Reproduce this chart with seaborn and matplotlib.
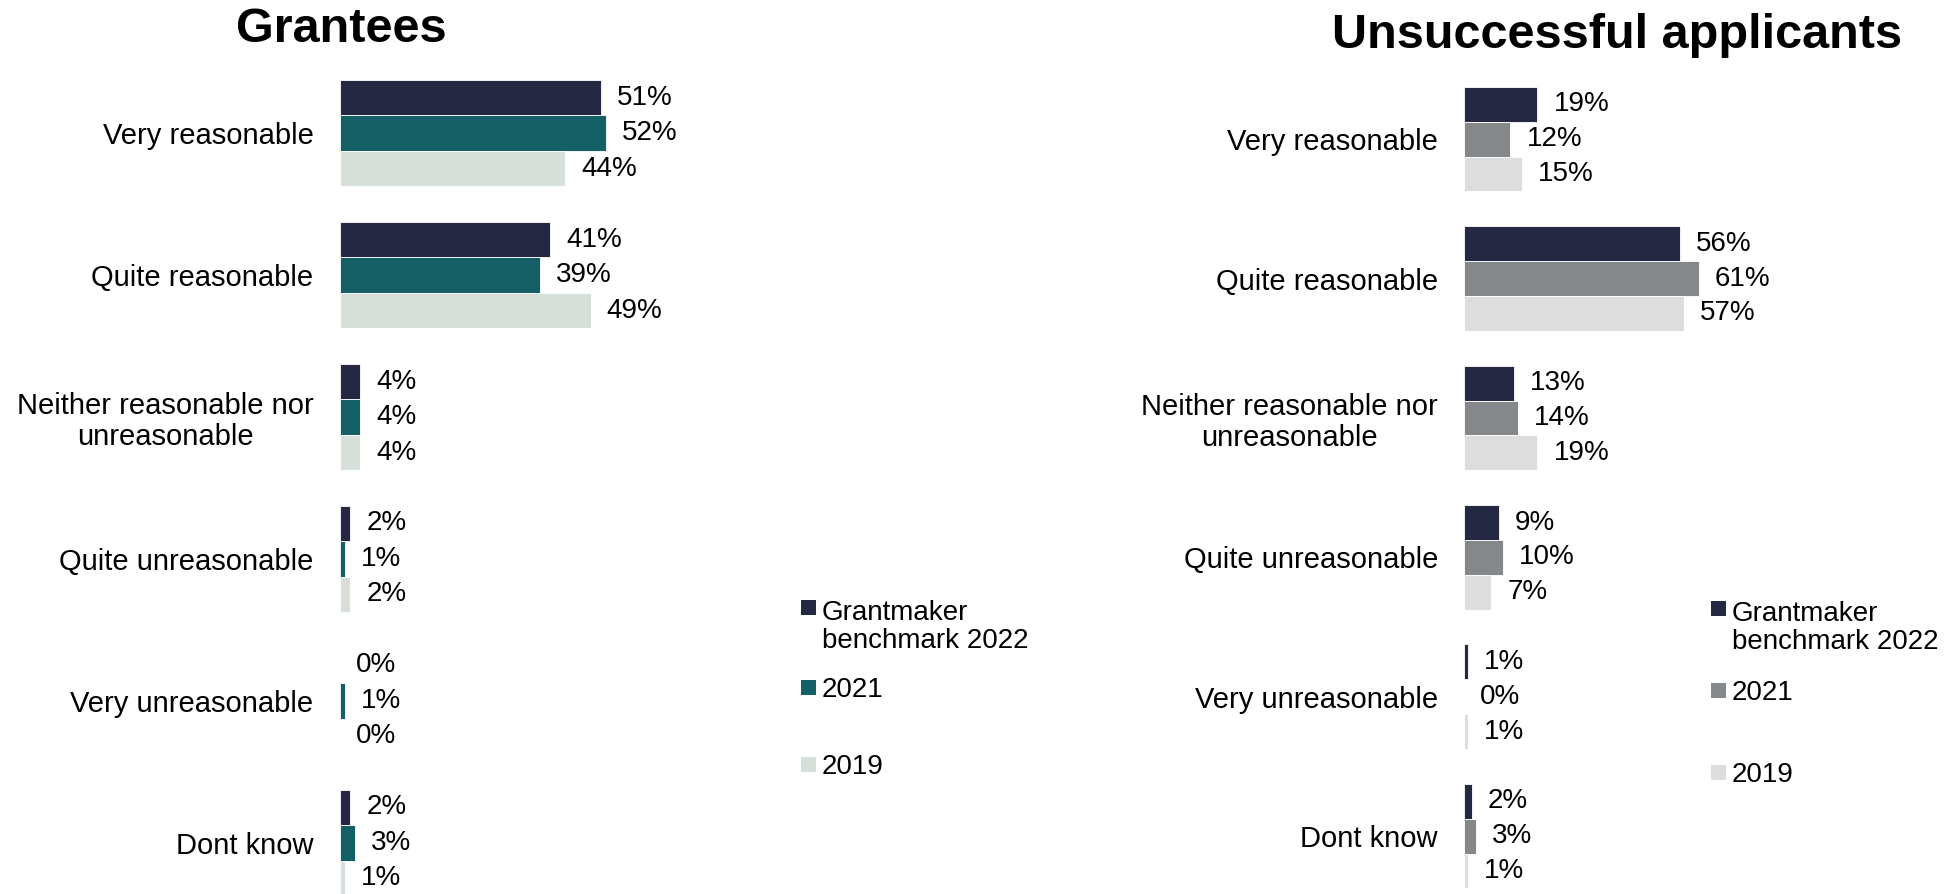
import numpy as np
import pandas as pd
import matplotlib
matplotlib.use("Agg")
import matplotlib.pyplot as plt
from matplotlib.patches import Rectangle
import seaborn as sns

# Survey answers: how reasonable the process was
categories = [
    "Very reasonable",
    "Quite reasonable",
    "Neither reasonable nor\nunreasonable",
    "Quite unreasonable",
    "Very unreasonable",
    "Dont know",
]
series_keys = ["2022", "2021", "2019"]
series_labels = ["Grantmaker\nbenchmark 2022", "2021", "2019"]

grantees_2022 = [51, 41, 4, 2, 0, 2]
grantees_2021 = [52, 39, 4, 1, 1, 3]
grantees_2019 = [44, 49, 4, 2, 0, 1]

unsuccessful_2022 = [19, 56, 13, 9, 1, 2]
unsuccessful_2021 = [12, 61, 14, 10, 0, 3]
unsuccessful_2019 = [15, 57, 19, 7, 1, 1]

grantee_colors = ["#252842", "#155F66", "#D6E0D8"]
unsuccessful_colors = ["#252842", "#85888B", "#DDDDDD"]

sns.set_theme(style="white")
plt.rcParams["font.family"] = ["Liberation Sans", "DejaVu Sans"]
plt.rcParams["text.color"] = "black"

TICK_SIZE = 21
VALUE_SIZE = 20
LEGEND_SIZE = 20
TITLE_SIZE = 35

W, H = 1956, 894
fig = plt.figure(figsize=(W / 100, H / 100), dpi=100)
fig.patch.set_facecolor("white")


def px_rect(x0, x1, y_top, y_bot):
    return [x0 / W, 1 - y_bot / H, (x1 - x0) / W, (y_bot - y_top) / H]


def long_frame(values):
    rows = []
    for key, vals in zip(series_keys, values):
        for cat, v in zip(categories, vals):
            rows.append({"category": cat, "series": key, "value": v})
    return pd.DataFrame(rows)


def draw_panel(rect, values, colors, xmax, ylim):
    ax = fig.add_axes(rect)
    df = long_frame(values)
    sns.barplot(
        data=df, x="value", y="category", hue="series",
        order=categories, hue_order=series_keys, palette=colors,
        orient="h", width=0.75, saturation=1, errorbar=None,
        edgecolor="white", linewidth=0.6, legend=False, ax=ax,
    )
    for container, vals in zip(ax.containers, values):
        ax.bar_label(container, labels=[f"{v}%" for v in vals],
                     padding=11.5, fontsize=VALUE_SIZE, color="black")
    ax.set_xlim(0, xmax)
    ax.set_ylim(*ylim)
    ax.set_xticks([])
    ax.set_xlabel("")
    ax.set_ylabel("")
    sns.despine(ax=ax, left=True, bottom=True)
    ax.tick_params(axis="y", length=0, pad=19, labelsize=TICK_SIZE,
                   labelcolor="black")
    for t in ax.get_yticklabels():
        t.set_multialignment("center")
        t.set_linespacing(1.15)
    ax.set_facecolor("none")
    return ax


def draw_legend(x_sq, x_txt, centers, colors):
    # square sits beside the first line of each entry
    sq = 15
    cap = 0.716 * LEGEND_SIZE * 100 / 72
    pitch = 31.5
    for label, color, yc in zip(series_labels, colors, centers):
        fig.add_artist(Rectangle((x_sq / W, 1 - (yc + sq / 2) / H), sq / W, sq / H,
                                 transform=fig.transFigure, facecolor=color,
                                 edgecolor="none"))
        extra = (label.count("\n")) * pitch
        fig.text(x_txt / W, 1 - (yc + cap / 2 + extra) / H, label, ha="left",
                 va="baseline", fontsize=LEGEND_SIZE, linespacing=1.1,
                 color="black")


# Grantees
draw_panel(px_rect(340, 700, 62, 894),
           [grantees_2022, grantees_2021, grantees_2019],
           grantee_colors, 360 / 5.12, (5.361, -0.502))
fig.text(341 / W, 1 - 30 / H, "Grantees", ha="center", va="center",
         fontsize=TITLE_SIZE, fontweight="bold")
draw_legend(801, 822, [607, 687, 764], grantee_colors)

# Unsuccessful applicants
draw_panel(px_rect(1464.3, 1900, 62, 894),
           [unsuccessful_2022, unsuccessful_2021, unsuccessful_2019],
           unsuccessful_colors, 435.7 / 3.85, (5.415, -0.554))
fig.text(1617 / W, 1 - 36 / H, "Unsuccessful applicants", ha="center",
         va="center", fontsize=TITLE_SIZE, fontweight="bold")
draw_legend(1711, 1732, [608, 690, 772.5], unsuccessful_colors)

fig.savefig("out.png", dpi=100, facecolor="white")
